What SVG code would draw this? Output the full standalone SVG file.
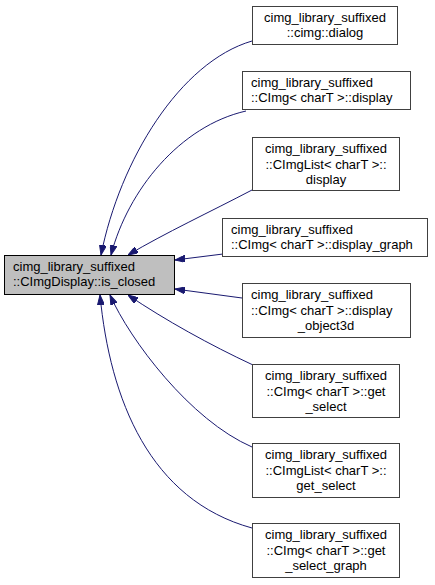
<svg xmlns="http://www.w3.org/2000/svg" width="435" height="585" viewBox="0 0 435 585">
<style>
.n rect{fill:#fff;stroke:#404040;stroke-width:1}
.root rect{fill:#bfbfbf;stroke:#000;stroke-width:1}
text{font-family:"Liberation Sans",Arial,Helvetica,sans-serif;font-size:13px;fill:#000}
.c{text-anchor:middle}
.e path{fill:none;stroke:#191970;stroke-width:1;marker-end:url(#ah)}
</style>
<defs>
<marker id="ah" viewBox="0 0 10 7" refX="10" refY="3.5" markerWidth="10" markerHeight="7" markerUnits="userSpaceOnUse" orient="auto">
<path d="M0,0 L10,3.5 L0,7 Z" fill="#191970" stroke="#191970"/>
</marker>
</defs>
<rect width="435" height="585" fill="#fff"/>
<g id="edges" class="e">
<path d="M252,41 C180,62 120,160 101,255"/>
<path d="M246,111 C180,126 128,190 111,255"/>
<path d="M252,190 C210,212 165,233 128,255"/>
<path d="M223,254 L175,260"/>
<path d="M242,298 L175,289"/>
<path d="M253,365 C210,345 165,320 128,295"/>
<path d="M252,447 C190,420 130,340 110,295"/>
<path d="M252,528 C150,500 110,400 100,295"/>
</g>
<g id="node0" class="root">
<rect x="4.5" y="255.5" width="170" height="39"/>
<text x="13" y="271">cimg_library_suffixed</text>
<text x="13" y="286">::CImgDisplay::is_closed</text>
</g>
<g id="node1" class="n">
<rect x="252.5" y="6.5" width="145" height="38"/>
<text class="c" x="325" y="22">cimg_library_suffixed</text>
<text class="c" x="325" y="37">::cimg::dialog</text>
</g>
<g id="node2" class="n">
<rect x="242.5" y="71.5" width="168" height="38"/>
<text x="251" y="87">cimg_library_suffixed</text>
<text x="251" y="102">::CImg&lt; charT &gt;::display</text>
</g>
<g id="node3" class="n">
<rect x="252.5" y="137.5" width="147" height="53"/>
<text class="c" x="326" y="153">cimg_library_suffixed</text>
<text class="c" x="326" y="168.5">::CImgList&lt; charT &gt;::</text>
<text class="c" x="326" y="184">display</text>
</g>
<g id="node4" class="n">
<rect x="222.5" y="218.5" width="205" height="38"/>
<text x="231" y="234">cimg_library_suffixed</text>
<text x="231" y="249">::CImg&lt; charT &gt;::display_graph</text>
</g>
<g id="node5" class="n">
<rect x="242.5" y="283.5" width="168" height="54"/>
<text x="251" y="299">cimg_library_suffixed</text>
<text x="251" y="314.5">::CImg&lt; charT &gt;::display</text>
<text class="c" x="326" y="330">_object3d</text>
</g>
<g id="node6" class="n">
<rect x="252.5" y="364.5" width="147" height="53"/>
<text class="c" x="326" y="380">cimg_library_suffixed</text>
<text class="c" x="326" y="395.5">::CImg&lt; charT &gt;::get</text>
<text class="c" x="326" y="411">_select</text>
</g>
<g id="node7" class="n">
<rect x="252.5" y="443.5" width="147" height="54"/>
<text class="c" x="326" y="459">cimg_library_suffixed</text>
<text class="c" x="326" y="474.5">::CImgList&lt; charT &gt;::</text>
<text class="c" x="326" y="490">get_select</text>
</g>
<g id="node8" class="n">
<rect x="252.5" y="523.5" width="147" height="54"/>
<text class="c" x="326" y="539">cimg_library_suffixed</text>
<text class="c" x="326" y="554.5">::CImg&lt; charT &gt;::get</text>
<text class="c" x="326" y="570">_select_graph</text>
</g>
</svg>
